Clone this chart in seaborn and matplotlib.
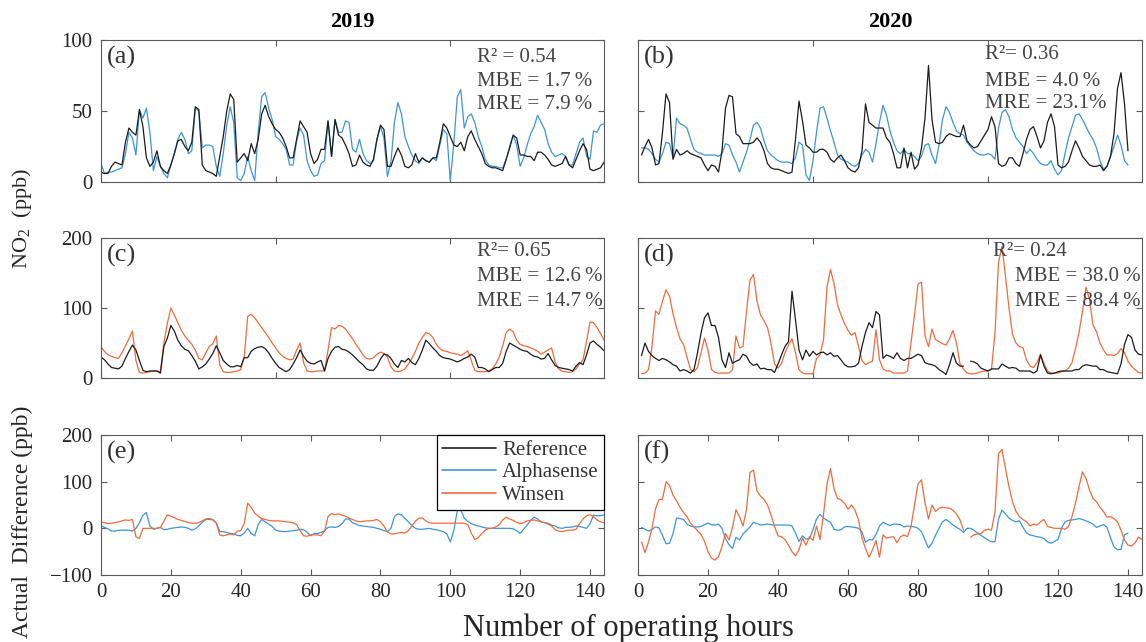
import numpy as np
import pandas as pd
import matplotlib
matplotlib.use("Agg")
import matplotlib.pyplot as plt
from matplotlib.lines import Line2D
import seaborn as sns

nan = np.nan
hours = np.arange(145)

# ---- 2019, panel (a): NO2 Reference vs Alphasense ----
ref_2019_a = [7, 6, 6, 11, 14, 13, 12, 28, 38, 35,
              33, 51, 39, 17, 11, 14, 22, 11, 8, 6,
              12, 20, 29, 30, 25, 22, 28, 53, 51, 12,
              8, 7, 6, 4, 18, 32, 50, 62, 58, 14,
              17, 20, 15, 27, 20, 30, 48, 54, 46, 41,
              37, 35, 31, 25, 17, 17, 30, 43, 39, 35,
              20, 13, 16, 23, 23, 43, 18, 44, 33, 31,
              26, 20, 11, 12, 19, 14, 12, 11, 16, 30,
              40, 37, 11, 11, 18, 24, 19, 11, 10, 12,
              20, 14, 17, 15, 14, 17, 17, 28, 41, 38,
              32, 26, 25, 28, 22, 32, 36, 30, 25, 20,
              13, 11, 10, 10, 9, 8, 16, 24, 33, 31,
              19, 19, 18, 18, 15, 21, 21, 19, 16, 12,
              11, 12, 13, 18, 12, 10, 16, 22, 27, 23,
              9, 8, 9, 10, 14]
alpha_2019_a = [13, 6, 7, 7, 8, 9, 10, 20, 35, 31,
                19, 51, 45, 52, 35, 8, 18, 11, 6, 3,
                12, 20, 30, 35, 30, 20, 22, 52, 50, 24,
                26, 26, 25, 11, 4, 20, 40, 53, 42, 3,
                1, 6, 18, 8, 1, 35, 60, 63, 52, 44,
                32, 30, 27, 23, 12, 12, 29, 38, 33, 15,
                8, 4, 5, 13, 15, 43, 18, 44, 35, 35,
                43, 42, 23, 21, 30, 20, 15, 13, 15, 30,
                39, 31, 4, 14, 42, 56, 48, 32, 25, 19,
                15, 13, 17, 15, 14, 17, 15, 26, 37, 34,
                1, 27, 60, 65, 38, 46, 48, 42, 32, 25,
                16, 12, 11, 11, 10, 10, 16, 25, 33, 26,
                11, 17, 26, 34, 39, 47, 42, 37, 27, 21,
                18, 19, 20, 18, 12, 12, 20, 28, 31, 18,
                16, 36, 35, 40, 41]

# ---- 2020, panel (b) ----
ref_2020_b = [nan, 19, 25, 30, 24, 12, 13, 35, 62, 56,
              16, 23, 19, 20, 22, 20, 19, 18, 17, 12,
              8, 12, 11, 7, 22, 52, 61, 60, 34, 32,
              27, 27, 27, 28, 31, 28, 22, 13, 10, 9,
              9, 8, 7, 6, 7, 30, 57, 43, 26, 24,
              21, 21, 23, 23, 21, 16, 14, 17, 19, 15,
              10, 8, 7, 10, 22, 55, 42, 40, 38, 38,
              38, 31, 28, 20, 10, 10, 24, 10, 21, 9,
              12, 24, 45, 82, 44, 28, 27, 28, 32, 34,
              33, 32, 32, 40, 29, 26, 24, 25, 29, 33,
              37, 46, 39, 13, 11, 12, 17, 17, 13, 11,
              20, 30, 37, 39, 32, 24, 29, 42, 48, 39,
              12, 10, 11, 14, 22, 29, 24, 18, 15, 12,
              11, 11, 12, 8, 11, 18, 34, 66, 77, 55,
              22, nan, nan, nan, nan]
alpha_2020_b = [nan, 24, 24, 23, 20, 16, 14, 20, 28, 27,
                17, 45, 41, 40, 38, 30, 23, 21, 20, 19,
                19, 19, 19, 18, 20, 27, 26, 19, 14, 7,
                14, 21, 30, 40, 42, 38, 29, 22, 19, 17,
                15, 14, 14, 14, 13, 17, 28, 26, 5, 1,
                15, 35, 52, 53, 45, 36, 28, 19, 16, 15,
                14, 12, 11, 13, 19, 23, 21, 14, 27, 42,
                54, 47, 36, 28, 22, 20, 23, 20, 20, 18,
                15, 18, 26, 27, 19, 13, 26, 44, 53, 49,
                42, 36, 34, 33, 28, 25, 22, 20, 19, 19,
                20, 19, 16, 38, 49, 51, 46, 37, 31, 28,
                25, 20, 23, 20, 16, 13, 12, 12, 15, 9,
                5, 8, 20, 31, 39, 47, 48, 44, 39, 34,
                30, 24, 15, 9, 11, 18, 25, 33, 26, 15,
                12, nan, nan, nan, nan]

# ---- 2019, panel (c): Reference vs Winsen ----
ref_2019_c = [30, 26, 20, 15, 14, 13, 17, 28, 38, 47,
              40, 25, 11, 9, 10, 10, 10, 7, 45, 57,
              75, 67, 54, 46, 41, 39, 32, 24, 13, 16,
              20, 27, 35, 46, 36, 25, 20, 16, 16, 18,
              16, 29, 29, 38, 42, 44, 45, 42, 36, 28,
              21, 15, 12, 9, 12, 20, 29, 40, 31, 24,
              21, 20, 23, 25, 10, 28, 38, 44, 45, 41,
              40, 37, 33, 28, 23, 19, 13, 11, 11, 17,
              27, 34, 33, 28, 20, 15, 25, 23, 28, 22,
              19, 28, 40, 54, 49, 43, 38, 32, 29, 28,
              27, 25, 23, 25, 28, 30, 34, 30, 15, 15,
              13, 9, 12, 15, 15, 21, 38, 50, 47, 44,
              41, 39, 38, 34, 31, 30, 27, 28, 35, 26,
              18, 15, 14, 13, 12, 10, 17, 22, 19, 33,
              50, 53, 48, 44, 39]
winsen_2019_c = [44, 38, 33, 31, 29, 28, 36, 46, 56, 67,
                 25, 8, 7, 8, 9, 10, 10, 9, 50, 78,
                 100, 90, 79, 68, 60, 54, 48, 40, 28, 26,
                 36, 45, 49, 60, 19, 9, 8, 8, 9, 10,
                 12, 30, 88, 91, 86, 79, 72, 65, 58, 50,
                 43, 36, 31, 28, 26, 27, 40, 50, 22, 10,
                 9, 9, 10, 10, 10, 40, 72, 70, 75, 74,
                 70, 63, 56, 48, 41, 33, 28, 27, 29, 34,
                 37, 35, 30, 16, 10, 9, 10, 13, 20, 28,
                 38, 50, 58, 65, 63, 58, 48, 42, 39, 38,
                 36, 35, 34, 32, 35, 39, 25, 11, 9, 9,
                 9, 10, 13, 20, 30, 46, 65, 70, 66, 54,
                 48, 46, 45, 43, 41, 38, 34, 37, 40, 43,
                 23, 13, 10, 9, 8, 9, 13, 20, 26, 52,
                 80, 79, 72, 64, 54]

# ---- 2020, panel (d) ----
ref_2020_d = [nan, 32, 50, 38, 32, 28, 25, 28, 26, 23,
              19, 17, 10, 12, 10, 7, 12, 36, 64, 86,
              93, 75, 75, 58, 26, 15, 36, 21, 24, 26,
              34, 31, 22, 18, 20, 13, 14, 12, 12, 8,
              20, 33, 45, 52, 124, 83, 40, 26, 40, 31,
              38, 33, 36, 37, 33, 36, 31, 32, 26, 19,
              16, 16, 17, 21, 45, 65, 79, 72, 95, 90,
              28, 33, 31, 28, 36, 28, 25, 28, 28, 31,
              34, 32, 22, 20, 19, 17, 12, 9, 5, 19,
              36, 21, 17, 17, nan, 24, 23, 20, 14, 12,
              10, 13, 13, 13, 20, 17, 14, 15, 14, 10,
              10, 10, 10, 7, 10, 33, 17, 7, 6, 7,
              9, 10, 10, 10, 10, 12, 12, 17, 19, 18,
              17, 17, 12, 12, 9, 8, 7, 6, 20, 48,
              62, 58, 40, 34, 33]
winsen_2020_d = [nan, 6, 7, 12, 45, 96, 91, 110, 126, 117,
                 92, 72, 56, 48, 30, 12, 9, 15, 36, 57,
                 40, 12, 8, 7, 7, 7, 7, 12, 60, 43,
                 45, 95, 140, 148, 110, 90, 82, 72, 50, 20,
                 14, 21, 36, 47, 56, 36, 12, 7, 6, 6,
                 6, 28, 33, 55, 130, 155, 135, 105, 90, 78,
                 68, 61, 65, 45, 25, 19, 22, 24, 69, 26,
                 13, 10, 10, 7, 7, 7, 7, 10, 50, 90,
                 134, 137, 60, 45, 70, 55, 52, 49, 47, 56,
                 68, 50, 20, 13, 7, 6, 6, 7, 9, 10,
                 10, 12, 65, 165, 188, 145, 100, 62, 50, 45,
                 43, 26, 17, 15, 22, 34, 21, 10, 7, 7,
                 7, 9, 10, 14, 22, 42, 65, 95, 130, 112,
                 76, 66, 50, 40, 33, 33, 32, 35, 42, 36,
                 24, 17, 12, 8, 7]

# ---- 2019, panel (e): differences (sensor - reference) ----
alpha_diff_2019 = [5, 2, -1, -6, -6, -4, -4, -4, -4, -6,
                   0, 12, 28, 34, 5, -2, 0, 2, -3, -2,
                   0, 1, 2, 3, 2, 0, -4, -1, 5, 13,
                   19, 19, 18, 12, -7, -7, -9, -11, -12, -15,
                   -16, -10, 0, -11, -16, 8, 19, 14, 9, 4,
                   -4, -6, -7, -7, -6, -5, -4, -2, -3, -8,
                   -16, -11, -11, -9, -5, 2, 3, 2, 4, 10,
                   20, 20, 12, 9, 6, 5, 4, 3, 2, 0,
                   -2, -5, -7, 0, 25, 31, 29, 21, 14, 6,
                   0, -2, -2, -1, 0, -2, -3, -5, -7, -12,
                   -29, -5, 38, 39, 22, 15, 10, 7, 5, 3,
                   1, 0, 0, 0, 0, 0, 0, 0, -1, -5,
                   -11, -2, 7, 17, 24, 20, 14, 12, 11, 7,
                   5, 1, 0, 2, 2, 3, 5, 4, 2, 0,
                   10, 28, 27, 27, 29]
winsen_diff_2019 = [14, 12, 10, 11, 12, 14, 16, 18, 17, 19,
                    -18, -22, 0, 0, 0, 0, 0, 2, 15, 29,
                    26, 23, 19, 17, 15, 12, 11, 11, 12, 16,
                    20, 21, 19, 11, -14, -16, -14, -12, -14, -6,
                    -5, 10, 54, 45, 33, 26, 21, 19, 17, 16,
                    16, 16, 15, 14, 13, 12, 8, -5, -16, -17,
                    -14, -14, -14, -16, -6, 25, 32, 29, 31, 28,
                    26, 22, 19, 16, 14, 15, 16, 16, 17, 19,
                    14, 5, -8, -12, -12, -10, -9, -10, -5, 5,
                    15, 22, 22, 16, 12, 11, 11, 11, 11, 11,
                    11, 11, 11, 11, 11, 8, -10, -24, -20, -11,
                    -4, 0, 0, 3, 8, 18, 24, 20, 17, 13,
                    10, 12, 16, 17, 18, 16, 14, 12, 9, 5,
                    -3, -6, -7, -5, -4, -4, -2, 10, 20, 27,
                    29, 25, 18, 14, 12]

# ---- 2020, panel (f) ----
alpha_diff_2020 = [nan, 2, -2, -6, -2, 3, 1, -15, -33, -32,
                   -12, 22, 21, 19, 9, 5, 3, 3, 4, 8,
                   11, 8, 7, 9, 0, -22, -35, -43, -19, -25,
                   -12, -5, 3, 13, 10, 7, 8, 9, 8, 7,
                   7, 7, 7, 7, 5, -10, -28, -16, -23, -22,
                   -3, 20, 30, 22, 17, 13, -2, -4, -3, 3,
                   4, 3, 2, 0, -8, -30, -24, -25, -13, 5,
                   13, 9, 6, 9, 9, 8, 3, 5, 4, 3,
                   0, -7, -25, -42, -32, -15, 0, 14, 19, 14,
                   7, 2, -2, -9, 0, 0, -4, -10, -15, -20,
                   -25, -29, -29, 20, 39, 31, 22, 17, 14, 16,
                   2, -10, -14, -16, -18, -19, -22, -29, -32, -28,
                   -24, 0, 14, 17, 18, 19, 21, 19, 16, 13,
                   9, 2, 5, 8, 2, -20, -40, -46, -45, -14,
                   -10, nan, nan, nan, nan]
winsen_diff_2020 = [nan, -29, -52, -29, 0, 42, 62, 62, 100, 92,
                    71, 59, 45, 34, 25, 11, 3, -5, -13, -28,
                    -50, -64, -68, -61, -39, -11, -25, 2, 40, 25,
                    5, 40, 120, 125, 80, 69, 62, 50, 29, 4,
                    -16, -18, -24, -36, -50, -59, -46, -21, -36, -18,
                    -26, 5, -24, 30, 95, 128, 85, 64, 61, 54,
                    41, 50, 39, 18, -21, -43, -62, -46, -26, -62,
                    -14, -21, -19, -18, -31, -18, -14, -18, 4, 50,
                    95, 104, 55, 20, 50, 36, 43, 45, 44, 43,
                    39, 31, 18, -4, nan, -19, -14, -12, -11, -4,
                    -2, -4, 35, 160, 169, 128, 89, 57, 36, 25,
                    19, 14, 5, 9, 7, 14, 19, 4, 2, 0,
                    0, 0, -2, 4, 25, 54, 89, 121, 107, 82,
                    64, 57, 45, 36, 24, 25, 21, 14, -4, -25,
                    -36, -38, -31, -19, -24]

stats_2019_alpha = ["R\u00b2 = 0.54", "MBE = 1.7\u2009%", "MRE = 7.9\u2009%"]
stats_2020_alpha = ["R\u00b2= 0.36", "MBE = 4.0\u2009%", "MRE = 23.1%"]
stats_2019_winsen = ["R\u00b2= 0.65", "MBE = 12.6\u2009%", "MRE = 14.7\u2009%"]
stats_2020_winsen = ["R\u00b2= 0.24", "MBE = 38.0\u2009%", "MRE = 88.4\u2009%"]

C_REF = "#1c1c1c"
C_ALPHA = "#3d95d6"
C_WIN = "#ef6a3c"
SERIF = ["Liberation Serif", "DejaVu Serif"]

sns.set_style("ticks")
plt.rcParams["font.family"] = SERIF
plt.rcParams["mathtext.fontset"] = "custom"
plt.rcParams["mathtext.rm"] = "Liberation Serif"
plt.rcParams["mathtext.it"] = "Liberation Serif:italic"


def draw(ax, values, color, lw=0.9):
    df = pd.DataFrame({"hour": hours, "value": np.asarray(values, dtype=float)})
    df["seg"] = df["value"].isna().cumsum()
    df = df.dropna()
    sns.lineplot(data=df, x="hour", y="value", units="seg", estimator=None,
                 color=color, linewidth=lw, ax=ax, legend=False)


fig = plt.figure(figsize=(11.46, 6.42), dpi=100)
W, H = 1146.0, 642.0
cols = [(101, 604), (638, 1142)]
rows = [(40, 182), (238, 378), (435, 575)]
axes = {}
for r, (yt, yb) in enumerate(rows):
    for c, (xl, xr) in enumerate(cols):
        axes[(r, c)] = fig.add_axes([xl / W, 1 - yb / H, (xr - xl) / W, (yb - yt) / H])

draw(axes[(0, 0)], alpha_2019_a, C_ALPHA)
draw(axes[(0, 0)], ref_2019_a, C_REF)
draw(axes[(0, 1)], alpha_2020_b, C_ALPHA)
draw(axes[(0, 1)], ref_2020_b, C_REF)
draw(axes[(1, 0)], winsen_2019_c, C_WIN)
draw(axes[(1, 0)], ref_2019_c, C_REF)
draw(axes[(1, 1)], winsen_2020_d, C_WIN)
draw(axes[(1, 1)], ref_2020_d, C_REF)
draw(axes[(2, 0)], alpha_diff_2019, C_ALPHA)
draw(axes[(2, 0)], winsen_diff_2019, C_WIN)
draw(axes[(2, 1)], alpha_diff_2020, C_ALPHA)
draw(axes[(2, 1)], winsen_diff_2020, C_WIN)

ylims = [(0, 100), (0, 200), (-100, 200)]
yticks = [[0, 50, 100], [0, 100, 200], [-100, 0, 100, 200]]
letters = [["(a)", "(b)"], ["(c)", "(d)"], ["(e)", "(f)"]]
for (r, c), ax in axes.items():
    ax.set_xlim(0, 144)
    ax.set_ylim(*ylims[r])
    ax.set_yticks(yticks[r])
    if r < 2:
        ax.set_xticks([0, 50, 100])
        ax.set_xticklabels([])
    else:
        ax.set_xticks(np.arange(0, 141, 20))
    if c == 1:
        ax.set_yticklabels([])
    ax.set_xlabel("")
    ax.set_ylabel("")
    ax.tick_params(direction="in", top=True, right=True, length=4, width=0.8,
                   color="#5a5a5a", labelcolor="#262626", labelsize=15, pad=6)
    for s in ax.spines.values():
        s.set_color("#5a5a5a")
        s.set_linewidth(0.8)
    ax.text(0.012, 0.875, letters[r][c], transform=ax.transAxes, fontsize=19,
            color="#333333", va="center", ha="left")

# statistics text
def stats(ax, lines, xs, ys):
    for t, x, y in zip(lines, xs, ys):
        ax.text(x, y, t, transform=ax.transAxes, fontsize=15, color="#444444",
                va="center", ha="left")

stats(axes[(0, 0)], stats_2019_alpha, [0.748] * 3, [0.88, 0.705, 0.545])
stats(axes[(0, 1)], stats_2020_alpha, [0.688] * 3, [0.90, 0.705, 0.55])
stats(axes[(1, 0)], stats_2019_winsen, [0.748] * 3, [0.905, 0.725, 0.548])
stats(axes[(1, 1)], stats_2020_winsen, [0.704, 0.748, 0.748], [0.905, 0.725, 0.548])

# legend in (e)
handles = [Line2D([], [], color=C_REF, lw=1.2),
           Line2D([], [], color=C_ALPHA, lw=1.2),
           Line2D([], [], color=C_WIN, lw=1.2)]
leg = axes[(2, 0)].legend(handles, ["Reference", "Alphasense", "Winsen"], loc="upper right",
                          bbox_to_anchor=(1.0, 1.0), borderaxespad=0.0, fancybox=False,
                          framealpha=1, edgecolor="black", fontsize=15, handlelength=2.6,
                          handletextpad=0.3, labelspacing=0.15, borderpad=0.25)
leg.get_frame().set_linewidth(0.9)
for t in leg.get_texts():
    t.set_color("#333333")

# titles and axis labels
fig.text((101 + 604) / 2 / W, 1 - 22 / H, "2019", fontsize=16, fontweight="bold",
         ha="center", va="center", color="black")
fig.text((638 + 1142) / 2 / W, 1 - 22 / H, "2020", fontsize=16, fontweight="bold",
         ha="center", va="center", color="black")
fig.text(22 / W, 1 - 218 / H, "NO$_2$  (ppb)", rotation=90, fontsize=16,
         ha="center", va="center", color="#262626")
fig.text(22 / W, 1 - 522 / H, "Actual  Difference (ppb)", rotation=90, fontsize=17,
         ha="center", va="center", color="#262626")
fig.text(628 / W, 1 - 628 / H, "Number of operating hours", fontsize=22,
         ha="center", va="center", color="#262626")

fig.savefig("out.png", dpi=100)
